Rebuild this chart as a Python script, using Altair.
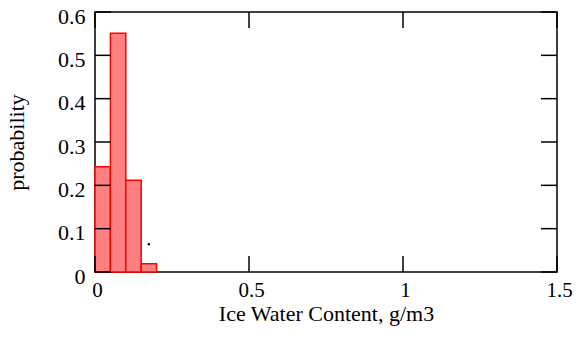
import altair as alt
import pandas as pd

# Histogram data (bin edges in g/m3, probability per bin)
bin_start = [0.00, 0.05, 0.10, 0.15]
bin_end = [0.05, 0.10, 0.15, 0.20]
probability = [0.243, 0.551, 0.212, 0.019]

# stray dot in the figure
dot_x = [0.175]
dot_y = [0.064]

x_ticks = [0, 0.5, 1, 1.5]
y_ticks = [0, 0.1, 0.2, 0.3, 0.4, 0.5, 0.6]

W, H = 462, 260
TICK = 16
FONT = "Liberation Serif"

bars_df = pd.DataFrame({"start": bin_start, "end": bin_end, "p": probability})
dot_df = pd.DataFrame({"x": dot_x, "y": dot_y})
xt_df = pd.DataFrame({"v": x_ticks})
yt_df = pd.DataFrame({"v": y_ticks})

xs = alt.Scale(domain=[0, 1.5], nice=False, zero=False)
ys = alt.Scale(domain=[0, 0.6], nice=False)

x_axis = alt.Axis(
    values=x_ticks, format="~g", title="Ice Water Content, g/m3",
    labelFont=FONT, titleFont=FONT, labelFlush=False, labelFontSize=21,
    labelBaseline="alphabetic", labelPadding=24, labelOffset=2,
    titleBaseline="alphabetic", titleY=48.5, titleX=W / 2,
)
y_axis = alt.Axis(
    values=y_ticks, format="~g", title="probability",
    labelFont=FONT, titleFont=FONT, labelFlush=False,
    labelBaseline="alphabetic", labelOffset=11, labelPadding=10,
    titleBaseline="alphabetic", titleX=-71.5, titleY=H / 2,
    titleAngle=270, titleAlign="center",
)

bars = alt.Chart(bars_df).mark_rect(
    fill="#ff8080", stroke="#ff0000", strokeWidth=1.5
).encode(
    x=alt.X("start:Q", scale=xs, axis=x_axis),
    x2="end:Q",
    y=alt.Y("p:Q", scale=ys, axis=y_axis),
    y2=alt.datum(0),
)

dot = alt.Chart(dot_df).mark_circle(color="black", size=6, opacity=1).encode(
    x=alt.X("x:Q", scale=xs, axis=x_axis),
    y=alt.Y("y:Q", scale=ys, axis=y_axis),
)

tick_style = dict(color="black", strokeWidth=1.5)
left_ticks = alt.Chart(yt_df).mark_rule(**tick_style).encode(
    y=alt.Y("v:Q", scale=ys, axis=y_axis), x=alt.value(0), x2=alt.value(TICK)
)
right_ticks = alt.Chart(yt_df).mark_rule(**tick_style).encode(
    y=alt.Y("v:Q", scale=ys, axis=y_axis), x=alt.value(W - TICK), x2=alt.value(W)
)
bottom_ticks = alt.Chart(xt_df).mark_rule(**tick_style).encode(
    x=alt.X("v:Q", scale=xs, axis=x_axis), y=alt.value(H), y2=alt.value(H - TICK)
)
top_ticks = alt.Chart(xt_df).mark_rule(**tick_style).encode(
    x=alt.X("v:Q", scale=xs, axis=x_axis), y=alt.value(0), y2=alt.value(TICK)
)

chart = alt.layer(
    bars, dot, left_ticks, right_ticks, bottom_ticks, top_ticks
).properties(
    width=W, height=H,
    autosize=alt.AutoSizeParams(type="none"),
    padding={"left": 95, "top": 12, "right": 21, "bottom": 75},
    background="white",
).configure_view(
    stroke="black", strokeWidth=1.5
).configure_axis(
    grid=False, ticks=False, tickSize=0, domain=False,
    labelFont=FONT, titleFont=FONT, labelFontSize=22, titleFontSize=22,
    labelColor="black", titleColor="black", titleFontWeight="normal",
)

chart.save("out.html", embed_options={"renderer": "svg", "actions": False})
